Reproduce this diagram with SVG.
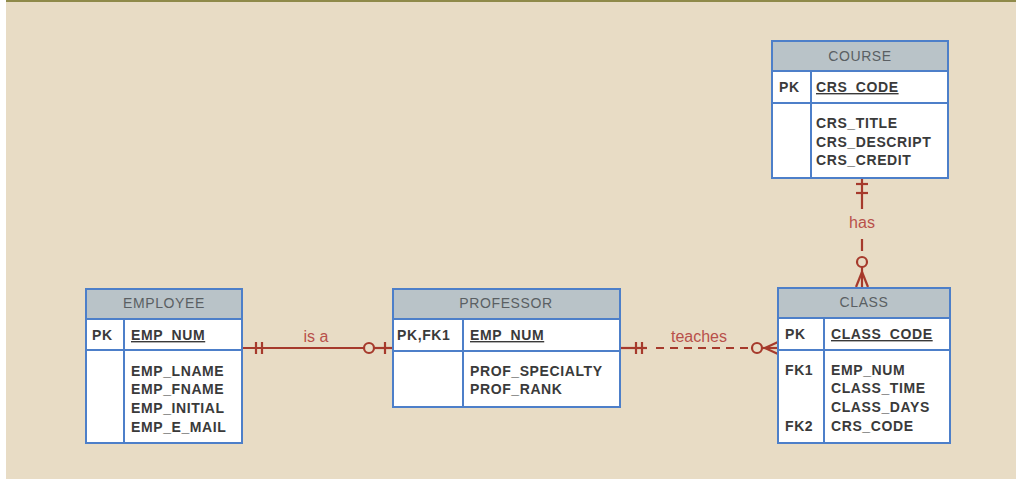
<svg xmlns="http://www.w3.org/2000/svg" width="1016" height="479" viewBox="0 0 1016 479">
<style>
.hdr{fill:#b9c3c8;stroke:#4d7fc9;stroke-width:2}
.body{fill:#ffffff;stroke:#4d7fc9;stroke-width:2}
.ln{stroke:#4d7fc9;stroke-width:2;fill:none}
.ht{font-family:"Liberation Sans",Arial,sans-serif;font-size:14px;letter-spacing:0.6px;fill:#5a5f63;text-anchor:middle}
.t{font-family:"Liberation Sans",Arial,sans-serif;font-size:14px;letter-spacing:0.6px;font-weight:bold;fill:#3a3a3a}
.u{text-decoration:underline}
.rel{stroke:#a63a2c;stroke-width:2.2;fill:none}
.relf{stroke:#a63a2c;stroke-width:2.2;fill:#e8dcc5}
.lab{font-family:"Liberation Sans",Arial,sans-serif;font-size:16px;fill:#b8504a;text-anchor:middle}
</style>
<rect x="0" y="0" width="1016" height="479" fill="#ffffff"/>
<rect x="6" y="0" width="1010" height="479" fill="#e8dcc5"/>
<rect x="6" y="0" width="1010" height="2" fill="#8f8a4a"/>

<g id="connectors">
  <!-- is a -->
  <line class="rel" x1="242" y1="348" x2="364" y2="348"/>
  <line class="rel" x1="374" y1="348" x2="393" y2="348"/>
  <line class="rel" x1="256" y1="342" x2="256" y2="354"/>
  <line class="rel" x1="262" y1="342" x2="262" y2="354"/>
  <circle class="relf" cx="369" cy="348" r="5"/>
  <line class="rel" x1="385" y1="342" x2="385" y2="354"/>
  <text class="lab" x="316" y="342">is a</text>
  <!-- teaches -->
  <line class="rel" x1="620" y1="348" x2="647" y2="348"/>
  <line class="rel" x1="636" y1="342" x2="636" y2="354"/>
  <line class="rel" x1="642" y1="342" x2="642" y2="354"/>
  <line class="rel" x1="656" y1="348" x2="752" y2="348" stroke-dasharray="8,6"/>
  <circle class="relf" cx="757" cy="348" r="5"/>
  <line class="rel" x1="762" y1="348" x2="778" y2="348"/>
  <line class="rel" x1="765" y1="348" x2="778" y2="342"/>
  <line class="rel" x1="765" y1="348" x2="778" y2="354"/>
  <text class="lab" x="699" y="342">teaches</text>
  <!-- has -->
  <line class="rel" x1="862" y1="178" x2="862" y2="209"/>
  <line class="rel" x1="856" y1="184" x2="868" y2="184"/>
  <line class="rel" x1="856" y1="193" x2="868" y2="193"/>
  <line class="rel" x1="862" y1="239" x2="862" y2="251"/>
  <circle class="relf" cx="862" cy="262" r="5"/>
  <line class="rel" x1="862" y1="267" x2="862" y2="287"/>
  <line class="rel" x1="862" y1="272" x2="856" y2="287"/>
  <line class="rel" x1="862" y1="272" x2="868" y2="287"/>
  <text class="lab" x="862" y="228">has</text>
</g>

<g id="employee">
  <rect class="hdr" x="86" y="289" width="156" height="30"/>
  <rect class="body" x="86" y="319" width="156" height="31"/>
  <rect class="body" x="86" y="350" width="156" height="93"/>
  <line class="ln" x1="124" y1="319" x2="124" y2="443"/>
  <text class="ht" x="164" y="308">EMPLOYEE</text>
  <text class="t" x="92" y="340">PK</text>
  <text class="t u" x="131" y="340">EMP_NUM</text>
  <text class="t" x="131" y="376">EMP_LNAME</text>
  <text class="t" x="131" y="394">EMP_FNAME</text>
  <text class="t" x="131" y="413">EMP_INITIAL</text>
  <text class="t" x="131" y="432">EMP_E_MAIL</text>
</g>

<g id="professor">
  <rect class="hdr" x="393" y="289" width="227" height="30"/>
  <rect class="body" x="393" y="319" width="227" height="32"/>
  <rect class="body" x="393" y="351" width="227" height="56"/>
  <line class="ln" x1="463" y1="319" x2="463" y2="407"/>
  <text class="ht" x="506" y="308">PROFESSOR</text>
  <text class="t" x="397" y="340">PK,FK1</text>
  <text class="t u" x="470" y="340">EMP_NUM</text>
  <text class="t" x="470" y="376">PROF_SPECIALTY</text>
  <text class="t" x="470" y="394">PROF_RANK</text>
</g>

<g id="class">
  <rect class="hdr" x="778" y="288" width="172" height="30"/>
  <rect class="body" x="778" y="318" width="172" height="32"/>
  <rect class="body" x="778" y="350" width="172" height="93"/>
  <line class="ln" x1="824" y1="318" x2="824" y2="443"/>
  <text class="ht" x="864" y="307">CLASS</text>
  <text class="t" x="785" y="339">PK</text>
  <text class="t u" x="831" y="339">CLASS_CODE</text>
  <text class="t" x="785" y="375">FK1</text>
  <text class="t" x="831" y="375">EMP_NUM</text>
  <text class="t" x="831" y="393">CLASS_TIME</text>
  <text class="t" x="831" y="412">CLASS_DAYS</text>
  <text class="t" x="785" y="431">FK2</text>
  <text class="t" x="831" y="431">CRS_CODE</text>
</g>

<g id="course">
  <rect class="hdr" x="772" y="41" width="176" height="30"/>
  <rect class="body" x="772" y="71" width="176" height="32"/>
  <rect class="body" x="772" y="103" width="176" height="75"/>
  <line class="ln" x1="811" y1="71" x2="811" y2="178"/>
  <text class="ht" x="860" y="61">COURSE</text>
  <text class="t" x="779" y="92">PK</text>
  <text class="t u" x="816" y="92">CRS_CODE</text>
  <text class="t" x="816" y="128">CRS_TITLE</text>
  <text class="t" x="816" y="147">CRS_DESCRIPT</text>
  <text class="t" x="816" y="165">CRS_CREDIT</text>
</g>
</svg>
